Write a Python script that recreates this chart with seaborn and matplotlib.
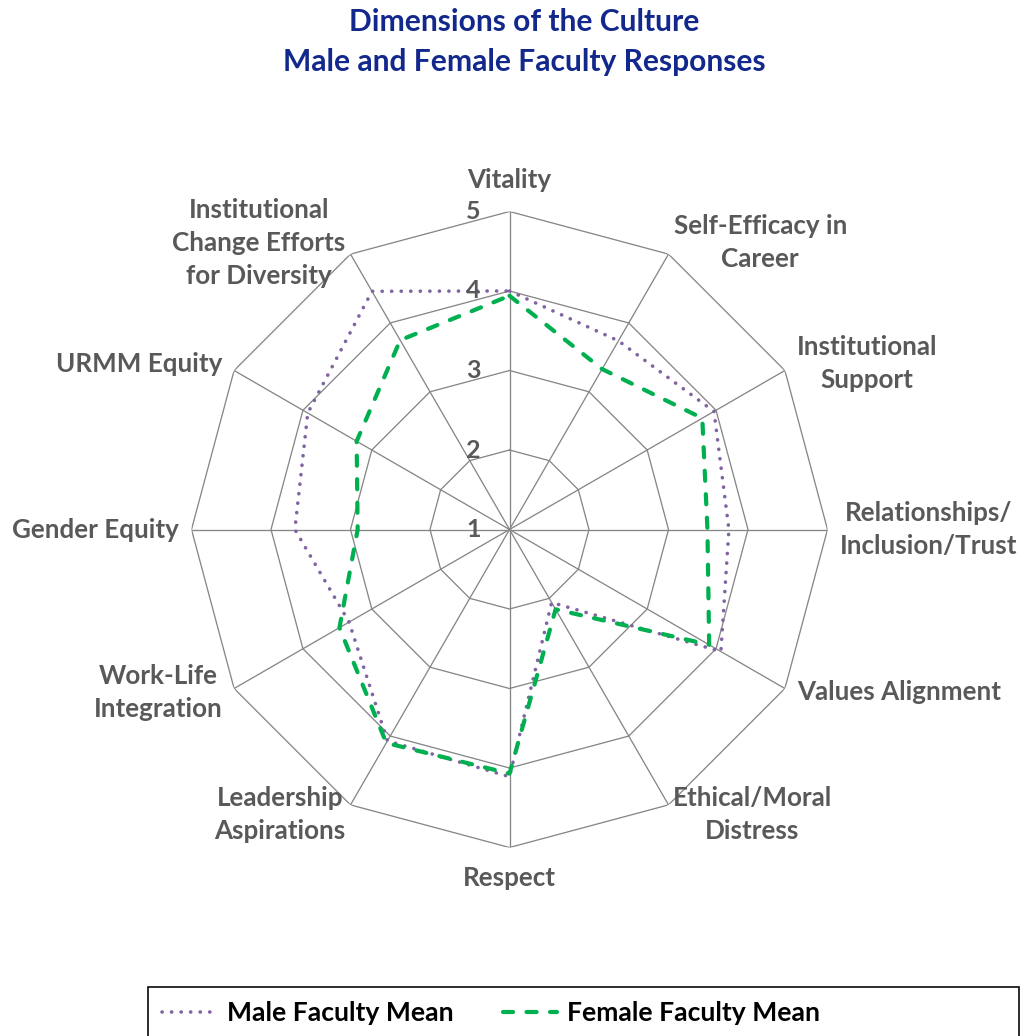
import numpy as np
import pandas as pd
import matplotlib
matplotlib.use("Agg")
import matplotlib.pyplot as plt
import seaborn as sns
from matplotlib.patches import Rectangle
from matplotlib.lines import Line2D

# ---------------- data ----------------
categories = [
    "Vitality",
    "Self-Efficacy in\nCareer",
    "Institutional\nSupport",
    "Relationships/\nInclusion/Trust",
    "Values Alignment",
    "Ethical/Moral\nDistress",
    "Respect",
    "Leadership\nAspirations",
    "Work-Life\nIntegration",
    "Gender Equity",
    "URMM Equity",
    "Institutional\nChange Efforts\nfor Diversity",
]
male_mean = [4.00, 3.74, 3.97, 3.76, 4.07, 2.06, 4.11, 4.07, 3.33, 3.70, 3.93, 4.46]
female_mean = [3.94, 3.33, 3.80, 3.49, 3.90, 2.16, 4.07, 4.10, 3.47, 2.91, 3.22, 3.75]
scale_ticks = [1, 2, 3, 4, 5]
series_names = ["Male Faculty Mean", "Female Faculty Mean"]

# label offsets (pixels) from the outer vertex, and horizontal alignment
label_layout = [
    ((0, 31), "center"),
    ((5, 12), "left"),
    ((12, 7), "left"),
    ((12, 0), "left"),
    ((12, -4), "left"),
    ((4, -10), "left"),
    ((0, -31), "center"),
    ((-5, -10), "right"),
    ((-11, -4), "right"),
    ((-13, 0), "right"),
    ((-12, 7), "right"),
    ((-5, 11), "right"),
]

# ---------------- style ----------------
sns.set_theme(style="white")
plt.rcParams["font.family"] = ["Lato", "DejaVu Sans"]

MALE_C = "#8064A2"
FEMALE_C = "#00B050"
GRID_C = "#868686"
TXT_C = "#595959"
TITLE_C = "#13288c"

DPI = 72
W, H = 1021, 1036
fig = plt.figure(figsize=(W / DPI, H / DPI), dpi=DPI)
fig.patch.set_facecolor("white")

cx, cy, R = 509.5, 529.5, 318
ax = fig.add_axes([(cx - R) / W, (H - cy - R) / H, 2 * R / W, 2 * R / H],
                  projection="polar")
ax.set_facecolor("none")
ax.set_theta_zero_location("N")
ax.set_theta_direction(-1)

n = len(categories)
theta = np.linspace(0, 2 * np.pi, n, endpoint=False)
theta_closed = np.append(theta, 2 * np.pi)

# polygon grid
for lvl in scale_ticks[1:]:
    ax.plot(theta_closed, [lvl] * (n + 1), color=GRID_C, lw=1.3, zorder=1)
for t in theta:
    ax.plot([t, t], [scale_ticks[0], scale_ticks[-1]], color=GRID_C, lw=1.3, zorder=1)

# data series
male_closed = male_mean + male_mean[:1]
female_closed = female_mean + female_mean[:1]
male_style = dict(color=MALE_C, linewidth=3.6, linestyle=(0, (0.05, 2.6)),
                  dash_capstyle="round", solid_capstyle="round")
female_style = dict(color=FEMALE_C, linewidth=4.2, linestyle=(0, (2.4, 3.2)),
                    dash_capstyle="round")
sns.lineplot(x=theta_closed, y=male_closed, ax=ax, sort=False, estimator=None,
             zorder=3, **male_style)
sns.lineplot(x=theta_closed, y=female_closed, ax=ax, sort=False, estimator=None,
             zorder=4, **female_style)

ax.set_ylim(scale_ticks[0], scale_ticks[-1])
ax.set_xticks([])
ax.set_yticks([])
ax.grid(False)
ax.spines["polar"].set_visible(False)
ax.set_xlabel("")
ax.set_ylabel("")

# radial tick labels
for lvl in scale_ticks:
    ax.annotate(str(lvl), (0, lvl), xytext=(-36, 0), textcoords="offset points",
                ha="center", va="center", fontsize=25, fontweight="bold",
                color=TXT_C, annotation_clip=False)

# category labels
for t, lab, (off, ha) in zip(theta, categories, label_layout):
    ax.annotate(lab, (t, scale_ticks[-1]), xytext=off, textcoords="offset points",
                ha=ha, va="center", multialignment="center", fontsize=26,
                fontweight="bold", color=TXT_C, linespacing=1.44,
                annotation_clip=False)

# title
fig.text(524 / W, 1 - 22 / H, "Dimensions of the Culture", ha="center", va="center",
         fontsize=30, fontweight="bold", color=TITLE_C)
fig.text(524 / W, 1 - 62 / H, "Male and Female Faculty Responses", ha="center",
         va="center", fontsize=30, fontweight="bold", color=TITLE_C)

# legend
handles = [Line2D([], [], **male_style), Line2D([], [], **female_style)]
leg = fig.legend(handles, series_names, loc="center left",
                 bbox_to_anchor=(162 / W, 1 - 1013 / H), frameon=False, ncol=2,
                 borderpad=0, borderaxespad=0,
                 handlelength=2.05, handletextpad=0.4, columnspacing=1.85,
                 prop={"size": 26.5, "weight": "bold"})
for txt in leg.get_texts():
    txt.set_color("black")
fig.add_artist(Rectangle((148 / W, -0.02), (1019 - 148) / W, 0.02 + 1 - 987 / H,
                         transform=fig.transFigure, fill=False,
                         edgecolor="black", lw=1.6))

fig.savefig("out.png", dpi=DPI, facecolor="white")
